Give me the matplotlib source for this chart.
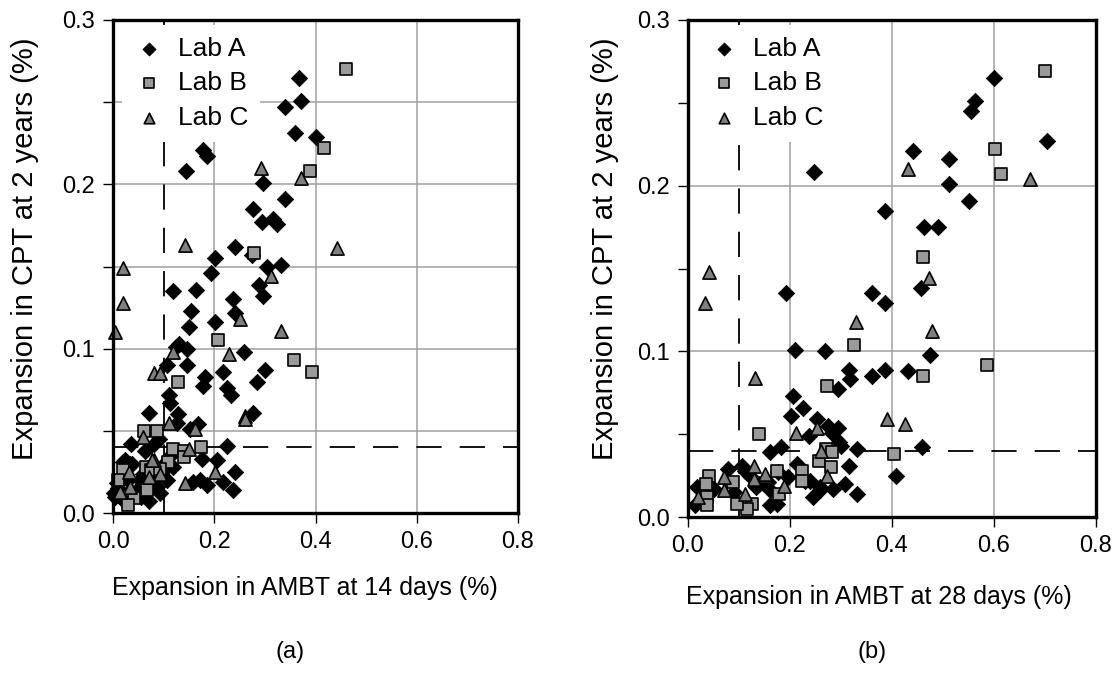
import matplotlib
matplotlib.use("Agg")
import matplotlib.pyplot as plt
import numpy as np

plt.rcParams['font.family'] = ['Liberation Sans', 'DejaVu Sans']

# ---------------- data: panel (a) AMBT 14 days ----------------
a_labA_x = [0.368,0.371,0.340,0.360,0.400,0.178,0.186,0.144,0.297,0.340,0.277,0.294,0.317,0.323,
            0.241,0.274,0.202,0.194,0.304,0.332,0.119,0.163,0.289,0.297,0.238,0.154,0.241,0.150,
            0.202,0.130,0.147,0.258,0.107,0.147,0.218,0.301,0.182,0.285,0.178,0.225,0.233,0.111,
            0.113,0.072,0.128,0.127,0.277,0.167,0.152,0.036,0.067,0.080,0.063,0.225,0.175,0.206,
            0.241,0.218,0.238,0.159,0.172,0.185,0.072,0.092,0.024,0.037,0.007,0.004,0.053,0.106,
            0.119,0.100,0.047,0.060,0.020,0.020,0.010,0.030,0.085,0.115,0.055,0.090,0.125,0.034,
            0.100,0.086,0.060,0.002]
a_labA_y = [0.265,0.251,0.247,0.231,0.229,0.221,0.217,0.208,0.201,0.191,0.185,0.177,0.179,0.176,
            0.162,0.157,0.155,0.146,0.150,0.151,0.135,0.136,0.139,0.132,0.130,0.123,0.122,0.113,
            0.116,0.103,0.100,0.098,0.090,0.090,0.086,0.087,0.083,0.080,0.077,0.076,0.072,0.072,
            0.067,0.061,0.060,0.055,0.061,0.054,0.051,0.042,0.039,0.042,0.038,0.041,0.033,0.032,
            0.025,0.019,0.014,0.019,0.020,0.017,0.007,0.012,0.032,0.030,0.018,0.010,0.020,0.020,
            0.028,0.026,0.014,0.024,0.008,0.031,0.015,0.020,0.022,0.035,0.010,0.045,0.101,0.030,
            0.030,0.016,0.012,0.012]
a_labB_x = [0.461,0.416,0.389,0.279,0.208,0.358,0.393,0.129,0.061,0.086,0.118,0.141,0.141,0.173,
            0.109,0.065,0.020,0.067,0.042,0.030,0.075,0.093,0.010]
a_labB_y = [0.270,0.222,0.208,0.158,0.105,0.093,0.086,0.080,0.050,0.050,0.039,0.038,0.034,0.040,
            0.031,0.028,0.026,0.014,0.009,0.005,0.026,0.027,0.020]
a_labC_x = [0.292,0.372,0.142,0.442,0.020,0.312,0.020,0.250,0.004,0.332,0.119,0.229,0.080,0.093,
            0.111,0.261,0.261,0.162,0.060,0.151,0.202,0.142,0.080,0.092,0.072,0.032,0.034,0.014,0.078]
a_labC_y = [0.210,0.204,0.163,0.161,0.149,0.144,0.128,0.118,0.110,0.111,0.098,0.097,0.085,0.085,
            0.055,0.059,0.057,0.051,0.046,0.039,0.025,0.018,0.032,0.024,0.022,0.025,0.016,0.013,0.032]

# ---------------- data: panel (b) AMBT 28 days ----------------
b_labA_x = [0.600,0.562,0.554,0.703,0.441,0.511,0.248,0.511,0.550,0.386,0.463,0.490,0.456,0.193,
            0.361,0.386,0.209,0.268,0.475,0.316,0.386,0.431,0.318,0.361,0.294,0.206,0.225,0.201,
            0.252,0.275,0.295,0.282,0.237,0.297,0.300,0.331,0.459,0.407,0.161,0.182,0.316,0.307,
            0.331,0.284,0.246,0.259,0.239,0.213,0.161,0.174,0.161,0.105,0.079,0.133,0.017,0.014,
            0.111,0.121,0.196,0.176,0.157,0.050,0.230,0.258,0.090,0.140]
b_labA_y = [0.265,0.251,0.245,0.227,0.221,0.216,0.208,0.201,0.191,0.185,0.175,0.175,0.138,0.135,
            0.135,0.129,0.101,0.100,0.098,0.089,0.089,0.088,0.083,0.085,0.077,0.073,0.066,0.061,
            0.059,0.055,0.054,0.051,0.049,0.045,0.043,0.041,0.042,0.025,0.039,0.042,0.031,0.020,
            0.014,0.017,0.012,0.018,0.022,0.032,0.007,0.008,0.016,0.031,0.029,0.018,0.018,0.007,
            0.028,0.025,0.024,0.027,0.021,0.017,0.022,0.016,0.015,0.020]
b_labB_x = [0.700,0.602,0.614,0.461,0.325,0.587,0.461,0.273,0.139,0.403,0.270,0.282,0.257,0.280,
            0.223,0.223,0.179,0.175,0.125,0.116,0.097,0.089,0.042,0.035,0.037,0.037]
b_labB_y = [0.269,0.222,0.207,0.157,0.104,0.092,0.085,0.079,0.050,0.038,0.041,0.039,0.034,0.030,
            0.028,0.022,0.014,0.028,0.008,0.005,0.008,0.021,0.025,0.020,0.012,0.007]
b_labC_x = [0.431,0.670,0.041,0.472,0.033,0.330,0.479,0.131,0.390,0.425,0.252,0.212,0.261,0.272,
            0.189,0.151,0.129,0.129,0.112,0.071,0.071,0.020,0.150]
b_labC_y = [0.210,0.204,0.148,0.144,0.129,0.118,0.112,0.084,0.059,0.056,0.054,0.051,0.040,0.025,
            0.019,0.025,0.031,0.023,0.014,0.024,0.016,0.012,0.026]

lab_names = ["Lab A", "Lab B", "Lab C"]
x_ticks = [0.0, 0.2, 0.4, 0.6, 0.8]
y_ticks = [0.0, 0.1, 0.2, 0.3]
x_labels = ["Expansion in AMBT at 14 days (%)", "Expansion in AMBT at 28 days (%)"]
y_label = "Expansion in CPT at 2 years (%)"
panel_tags = ["(a)", "(b)"]
limit_x = 0.1
limit_y = 0.04

fig = plt.figure(figsize=(11.18, 6.94), dpi=100)
ax_a = fig.add_axes([113/1118, 1-513/694, 405/1118, 493/694])
ax_b = fig.add_axes([688/1118, 1-517/694, 408/1118, 497/694])

FS_TICK = 17
FS_XLAB = 18
FS_YLAB = 21
FS_LEG = 19
FS_TAG = 17

styles = [dict(marker='D', s=70, c='black', edgecolors='black', linewidths=0.5),
          dict(marker='s', s=72, c='#9a9a9a', edgecolors='black', linewidths=1.2),
          dict(marker='^', s=90, c='#7f7f7f', edgecolors='black', linewidths=1.2)]

panels = [
    (ax_a, [(a_labA_x, a_labA_y), (a_labB_x, a_labB_y), (a_labC_x, a_labC_y)], True,
     (-0.217, 0.537), (0.474, -0.152)),
    (ax_b, [(b_labA_x, b_labA_y), (b_labB_x, b_labB_y), (b_labC_x, b_labC_y)], False,
     (-0.203, 0.540), (0.468, -0.161)),
]

for i, (ax, series, minor_grid, ylc, xlc) in enumerate(panels):
    for (xs, ys), st, nm in zip(series, styles, lab_names):
        ax.scatter(xs, ys, label=nm, zorder=3, clip_on=False, **st)
    ax.set_xlim(0, 0.8)
    ax.set_ylim(0, 0.3)
    ax.set_xticks(x_ticks)
    ax.set_xticklabels([f"{v:.1f}" for v in x_ticks], fontsize=FS_TICK)
    ax.set_yticks(y_ticks)
    ax.set_yticklabels([f"{v:.1f}" for v in y_ticks], fontsize=FS_TICK)
    ax.set_yticks([0.05, 0.15, 0.25], minor=True)
    ax.tick_params(which='both', direction='out', length=7, width=1, pad=6)
    ax.grid(True, which='major', color='#a0a0a0', lw=1.1, zorder=1)
    if minor_grid:
        ax.grid(True, which='minor', axis='y', color='#a0a0a0', lw=1.1, zorder=1)
    for sp in ax.spines.values():
        sp.set_linewidth(2.4)
        sp.set_zorder(5)
    ax.axvline(limit_x, color='black', lw=1.3, ls=(0, (14, 10)), zorder=2)
    ax.axhline(limit_y, color='black', lw=1.3, ls=(0, (14, 10)), zorder=2)
    ax.set_xlabel(x_labels[i], fontsize=FS_XLAB)
    ax.xaxis.label.set_verticalalignment('center')
    ax.xaxis.set_label_coords(*xlc)
    ax.set_ylabel(y_label, fontsize=FS_YLAB)
    ax.yaxis.label.set_verticalalignment('center')
    ax.yaxis.set_label_coords(*ylc)
    leg = ax.legend(loc='upper left', fontsize=FS_LEG, frameon=True, framealpha=1,
                    facecolor='white', edgecolor='none', fancybox=False,
                    handlelength=1.2, handletextpad=0.5, borderpad=0.45,
                    labelspacing=0.4, borderaxespad=0,
                    bbox_to_anchor=(0.021, 0.99), scatterpoints=1, markerscale=0.8)
    leg.set_zorder(4)

fig.text(290/1118, 1-652/694, panel_tags[0], fontsize=FS_TAG, ha='center', va='center')
fig.text(872/1118, 1-652/694, panel_tags[1], fontsize=FS_TAG, ha='center', va='center')

fig.savefig("out.png", dpi=100, facecolor='white')
